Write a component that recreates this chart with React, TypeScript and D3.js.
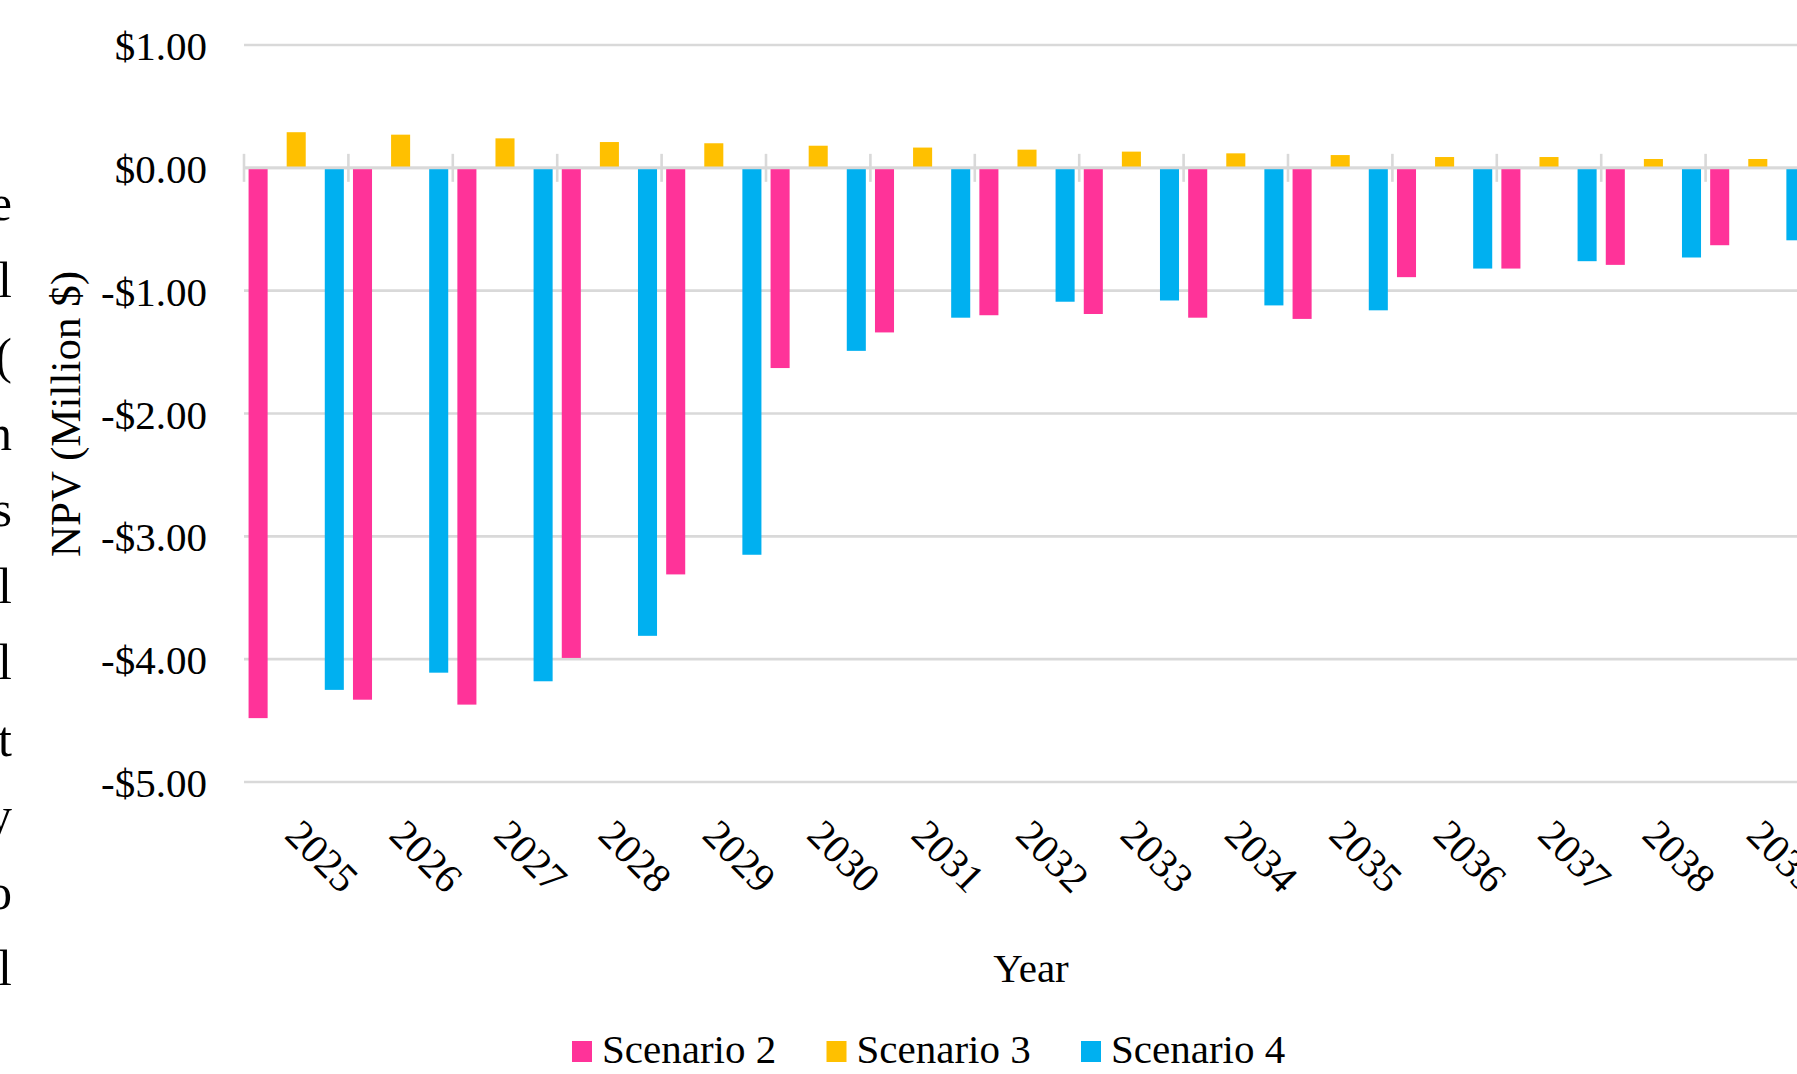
import React from 'react';
import * as d3 from 'd3';

const years = ['2025','2026','2027','2028','2029','2030','2031','2032','2033','2034','2035','2036','2037','2038','2039'];
const scenario2 = [-4.48,-4.33,-4.37,-3.99,-3.31,-1.63,-1.34,-1.20,-1.19,-1.22,-1.23,-0.89,-0.82,-0.79,-0.63];
const scenario3 = [0.29,0.27,0.24,0.21,0.20,0.18,0.165,0.148,0.132,0.118,0.104,0.088,0.088,0.072,0.072];
const scenario4 = [-4.25,-4.11,-4.18,-3.81,-3.15,-1.49,-1.22,-1.09,-1.08,-1.12,-1.16,-0.82,-0.76,-0.73,-0.59];
const seriesNames = ['Scenario 2','Scenario 3','Scenario 4'];
const seriesColors = ['#FF3399','#FFC000','#00B0F0'];
const yTicks = [1,0,-1,-2,-3,-4,-5];
const marginChars = ['e','l','(','n','s','l','l','t','y','o','l'];

const W = 1797, H = 1074;
const FONT = "'Liberation Serif','Times New Roman',serif";

export default function App() {
  const x = d3.scaleBand<string>().domain(years).range([244, 244 + 15 * 104.4]).paddingInner(0).paddingOuter(0);
  const xs = d3.scaleBand<string>().domain(seriesNames).range([0, x.bandwidth()]).paddingInner(0.5).paddingOuter(0.12);
  const y = d3.scaleLinear().domain([-5, 1]).range([782, 45]);
  const series = [scenario2, scenario3, scenario4];
  const [x0, x1] = x.range();
  const fmt = (v: number) => (v < 0 ? '-$' : '$') + Math.abs(v).toFixed(2);
  const boundaries = years.map((yr) => x(yr) as number).concat([x1]);

  return (
    <svg width={W} height={H} style={{ position: 'absolute', left: 0, top: 0, background: '#fff' }} fontFamily={FONT}>
      <rect x={0} y={0} width={W} height={H} fill="#fff" />
      {/* document text fragments at the left margin */}
      {marginChars.map((c, i) => (
        <text key={'m' + i} x={12} y={220 + i * 76.5} fontSize={50} textAnchor="end" fill="#000">{c}</text>
      ))}
      {/* gridlines */}
      {yTicks.map((t) => (
        <line key={'g' + t} x1={x0} x2={x1 + 20} y1={y(t)} y2={y(t)} stroke="#D9D9D9" strokeWidth={2.6} />
      ))}
      {/* y tick labels */}
      {yTicks.map((t) => (
        <text key={'yl' + t} x={207} y={y(t) + 15} fontSize={41} textAnchor="end" fill="#000">{fmt(t)}</text>
      ))}
      {/* bars */}
      {series.map((vals, si) =>
        vals.map((v, i) => {
          const bx = (x(years[i]) as number) + (xs(seriesNames[si]) as number);
          const top = Math.min(y(v), y(0));
          const h = Math.abs(y(v) - y(0));
          return <rect key={`b${si}-${i}`} x={bx} y={top} width={xs.bandwidth()} height={h} fill={seriesColors[si]} />;
        })
      )}
      {/* zero axis line and category tick marks */}
      <line x1={x0} x2={x1 + 20} y1={y(0)} y2={y(0)} stroke="#D9D9D9" strokeWidth={2.6} />
      {boundaries.map((b, i) => (
        <line key={'t' + i} x1={b} x2={b} y1={y(0) - 14} y2={y(0) + 14} stroke="#D9D9D9" strokeWidth={2.6} />
      ))}
      {/* x tick labels */}
      {years.map((yr) => {
        const cx = (x(yr) as number) + x.bandwidth() / 2 - 13;
        const cy = 837;
        return (
          <text key={'xl' + yr} x={cx} y={cy} fontSize={41} fill="#000" transform={`rotate(45 ${cx} ${cy})`}>{yr}</text>
        );
      })}
      {/* axis titles */}
      <text x={1031} y={982} fontSize={41} textAnchor="middle" fill="#000">Year</text>
      <text x={80} y={414} fontSize={43} textAnchor="middle" fill="#000" transform="rotate(-90 80 414)">NPV (Million $)</text>
      {/* legend */}
      {seriesNames.map((s, i) => {
        const lx = 572 + i * 254.5;
        return (
          <g key={'lg' + s}>
            <rect x={lx} y={1041} width={20} height={21} fill={seriesColors[i]} />
            <text x={lx + 30} y={1063} fontSize={41} fill="#000">{s}</text>
          </g>
        );
      })}
    </svg>
  );
}
